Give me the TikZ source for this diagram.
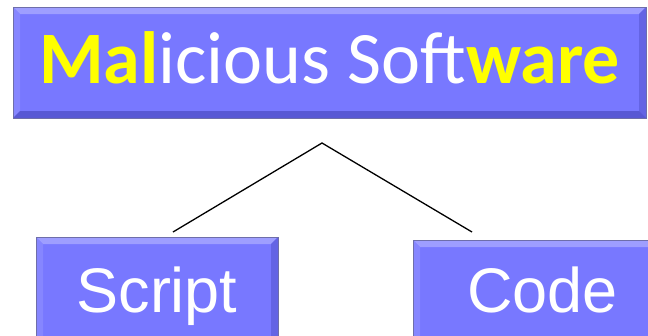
\documentclass[tikz,border=0pt]{standalone}
\usepackage{fontspec}
\newfontfamily\calibri{Carlito}
\newfontfamily\arial{Liberation Sans}
\definecolor{boxfill}{RGB}{120,120,255}
\definecolor{bevtop}{RGB}{158,158,255}
\definecolor{bevleft}{RGB}{134,134,255}
\definecolor{bevright}{RGB}{100,100,228}
\definecolor{bevbottom}{RGB}{88,88,212}
\definecolor{boxedge}{RGB}{110,110,170}
\definecolor{hilite}{RGB}{255,255,0}
\newcommand{\bevw}{7pt}
\tikzset{
  bevelbox/.style={
    rectangle, fill=boxfill, draw=boxedge, line width=0.7pt,
    inner sep=0pt, text=white,
    path picture={
      \fill[bevtop] (path picture bounding box.north west) -- (path picture bounding box.north east)
        -- ([xshift=-\bevw,yshift=-\bevw]path picture bounding box.north east)
        -- ([xshift=\bevw,yshift=-\bevw]path picture bounding box.north west) -- cycle;
      \fill[bevleft] (path picture bounding box.north west) -- ([xshift=\bevw,yshift=-\bevw]path picture bounding box.north west)
        -- ([xshift=\bevw,yshift=\bevw]path picture bounding box.south west)
        -- (path picture bounding box.south west) -- cycle;
      \fill[bevright] (path picture bounding box.north east) -- ([xshift=-\bevw,yshift=-\bevw]path picture bounding box.north east)
        -- ([xshift=-\bevw,yshift=\bevw]path picture bounding box.south east)
        -- (path picture bounding box.south east) -- cycle;
      \fill[bevbottom] (path picture bounding box.south west) -- (path picture bounding box.south east)
        -- ([xshift=-\bevw,yshift=\bevw]path picture bounding box.south east)
        -- ([xshift=\bevw,yshift=\bevw]path picture bounding box.south west) -- cycle;
    }
  },
  titlefont/.style={font=\calibri\fontsize{74}{74}\selectfont, text height=47pt, text depth=6pt},
  leaffont/.style={font=\arial\fontsize{63}{63}\selectfont, text height=45pt},
  branch/.style={line width=1.3pt, black}
}
\begin{document}
\begin{tikzpicture}[x=1pt, y=-1pt]
  \clip (0,0) rectangle (648,335);
  \fill[white] (0,0) rectangle (648,335);

  % root box
  \node[bevelbox, titlefont, minimum width=633pt, minimum height=111pt] (root) at (329.5,62.5)
    {\textcolor{hilite}{\bfseries Mal}icious Soft\textcolor{hilite}{\bfseries ware}};

  % leaf boxes, running past the lower edge
  \node[bevelbox, leaffont, text depth=8pt, minimum width=242pt, minimum height=113pt] (script) at (157,293.5)
    {Script};
  \node[bevelbox, leaffont, text depth=11pt, minimum width=259pt, minimum height=110pt] (code) at (542.5,295)
    {Code};

  % branching lines
  \coordinate (apex) at (322,143);
  \coordinate (lend) at (173,232);
  \coordinate (rend) at (472,232);
  \draw[branch] (lend) -- (apex) -- (rend);
\end{tikzpicture}
\end{document}
